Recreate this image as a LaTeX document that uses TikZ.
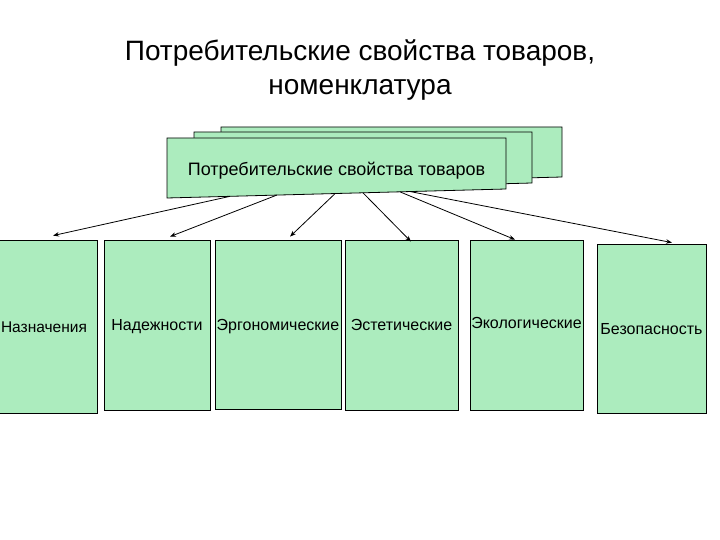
\documentclass[tikz,border=0pt]{standalone}
\usepackage{fontspec}
\setmainfont{Liberation Sans}
\usetikzlibrary{calc,arrows.meta}
\definecolor{boxgreen}{RGB}{172,236,190}
\tikzset{
  x=1pt,y=-1pt,
  sheet/.style={draw=black,line width=0.8pt,fill=boxgreen},
  catbox/.style={draw=black,line width=0.8pt,fill=boxgreen,rectangle,inner sep=0pt,
    text height=11.5pt,text depth=0pt,
    font=\fontsize{16}{19}\selectfont},
  link/.style={draw=black,line width=0.8pt,-{Stealth[length=6pt,width=4.5pt]}}
}
\begin{document}
\begin{tikzpicture}
\useasboundingbox[fill=white] (0,0) rectangle (720,540);
% title
\node[align=center,font=\fontsize{28}{34}\selectfont] (title) at (360,70)
  {Потребительские свойства товаров,\\номенклатура};
% stacked sheets
\path[sheet] (221,127) -- (562,127) -- (562,177) -- (221,186) -- cycle;
\path[sheet] (194,132) -- (532,132) -- (532,183) -- (194,192) -- cycle;
\coordinate (fbl) at (167,198);
\coordinate (fbr) at (506,189);
\path[sheet] (167,138) -- (506,138) -- (fbr) -- (fbl) -- cycle;
\node[font=\fontsize{18}{21}\selectfont] (front) at (336.5,171) {Потребительские свойства товаров};
% category boxes
\node[catbox,minimum width=107pt,minimum height=173pt,font=\fontsize{15.5}{19}\selectfont] (b1) at (44,326.5) {Назначения};
\node[catbox,minimum width=106pt,minimum height=170pt] (b2) at (157,325) {Надежности};
\node[catbox,minimum width=126pt,minimum height=169pt] (b3) at (278,324.5) {Эргономические};
\node[catbox,minimum width=113pt,minimum height=170pt] (b4) at (401.5,325) {Эстетические};
\node[catbox,minimum width=113pt,minimum height=170pt,text depth=4pt] (b5) at (526.5,325) {Экологические};
\node[catbox,minimum width=109pt,minimum height=169pt] (b6) at (651.5,328.5) {Безопасность};
% connectors
\coordinate (s1) at ($(fbl)!0.186!(fbr)$);
\coordinate (s2) at ($(fbl)!0.324!(fbr)$);
\coordinate (s3) at ($(fbl)!0.496!(fbr)$);
\coordinate (s4) at ($(fbl)!0.578!(fbr)$);
\coordinate (s5) at ($(fbl)!0.687!(fbr)$);
\coordinate (s6) at ($(fbl)!0.717!(fbr)$);
\draw[link] (s1) -- ([xshift=9pt,yshift=4pt]b1.north);
\draw[link] (s2) -- ([xshift=13pt,yshift=3pt]b2.north);
\draw[link] (s3) -- ([xshift=12pt,yshift=3pt]b3.north);
\draw[link] (s4) -- ([xshift=9.5pt,yshift=-2pt]b4.north);
\draw[link] (s5) -- ([xshift=-11.5pt,yshift=0pt]b5.north);
\draw[link] (s6) -- ([xshift=20.5pt,yshift=1pt]b6.north);
\end{tikzpicture}
\end{document}
